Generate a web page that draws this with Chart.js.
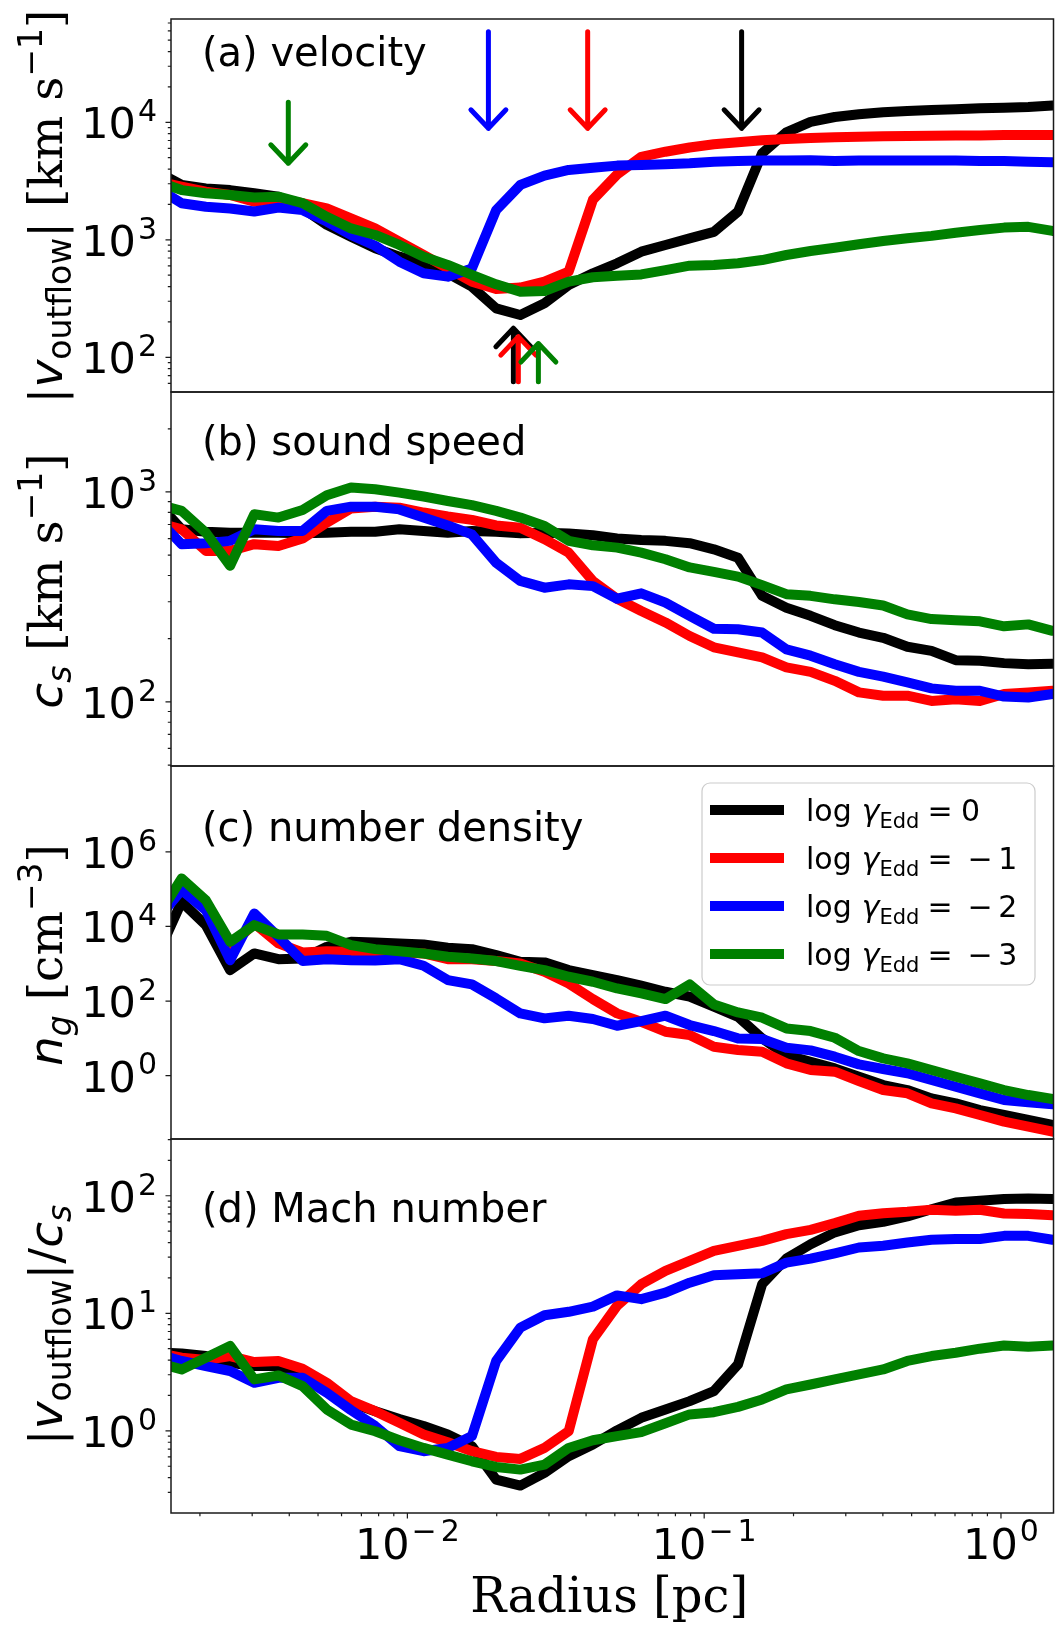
<!DOCTYPE html>
<html>
<head>
<meta charset="utf-8">
<script src="https://cdn.jsdelivr.net/npm/chart.js@4.4.1/dist/chart.umd.min.js"></script>
<style>
  html, body { margin: 0; padding: 0; background: #ffffff; }
  #wrap { position: relative; width: 1055px; height: 1625px; overflow: hidden; }
  canvas { position: absolute; left: 0; }
</style>
</head>
<body>
<div id="wrap">
  <canvas id="panelA" width="1055" height="412" style="top:0px"></canvas>
  <canvas id="panelB" width="1055" height="395" style="top:382px"></canvas>
  <canvas id="panelC" width="1055" height="394" style="top:756px"></canvas>
  <canvas id="panelD" width="1055" height="496" style="top:1129px"></canvas>
</div>
<script>
// radial profiles of the outflow for four Eddington ratios

const radius = [0.001439, 0.001736, 0.002094, 0.002527, 0.003048, 0.003677, 0.004436, 0.005352, 0.006457, 0.007790,
  0.009397, 0.01134, 0.01368, 0.01650, 0.01991, 0.02402, 0.02897, 0.03495, 0.04217, 0.05087,
  0.06138, 0.07405, 0.08933, 0.1078, 0.1300, 0.1568, 0.1892, 0.2283, 0.2754, 0.3322,
  0.4009, 0.4836, 0.5834, 0.7039, 0.8492, 1.024, 1.236, 1.491];

const seriesNames = ["log γEdd = 0", "log γEdd = -1", "log γEdd = -2", "log γEdd = -3"];
const legendValues = ["0", "−1", "−2", "−3"];
const seriesColors = ["#000000", "#ff0000", "#0000ff", "#008000"];

// (a) |v_outflow| [km/s]
const velBlack = [3800, 2930, 2740, 2650, 2490, 2330, 1850, 1340, 1060, 847, 719, 631, 519, 399, 261, 229, 288, 413, 519, 631,
  793, 904, 1030, 1170, 1740, 5450, 8220, 10100, 11100, 11700, 12200, 12500, 12700, 12900, 13200, 13300, 13500, 13900];
const velRed = [3130, 2830, 2570, 2410, 2110, 2250, 2050, 1850, 1520, 1250, 964, 743, 571, 441, 382, 392, 441, 536, 2190, 3600,
  5090, 5620, 6100, 6500, 6760, 7030, 7210, 7360, 7450, 7550, 7600, 7660, 7690, 7740, 7740, 7800, 7800, 7800];
const velBlue = [2740, 2050, 1910, 1850, 1740, 1880, 1790, 1430, 1100, 891, 652, 519, 486, 571, 1790, 2930, 3520, 3930, 4110, 4280,
  4340, 4400, 4480, 4620, 4690, 4720, 4720, 4750, 4690, 4720, 4720, 4720, 4720, 4720, 4690, 4690, 4620, 4570];
const velGreen = [3130, 2650, 2490, 2410, 2290, 2330, 2050, 1570, 1250, 1100, 904, 719, 611, 502, 418, 362, 367, 441, 480, 495,
  508, 553, 603, 611, 631, 673, 743, 804, 857, 916, 977, 1030, 1080, 1150, 1210, 1270, 1290, 1190];

// (b) sound speed [km/s]
const csBlack = [889, 664, 646, 640, 640, 640, 635, 640, 646, 646, 664, 652, 640, 652, 646, 635, 640, 635, 622, 600,
  590, 585, 570, 533, 486, 320, 281, 257, 232, 214, 202, 183, 175, 158, 157, 153, 151, 152];
const csRed = [714, 664, 524, 524, 564, 553, 600, 714, 834, 851, 841, 798, 764, 736, 693, 676, 596, 514, 377, 310,
  271, 239, 206, 182, 172, 163, 146, 139, 126, 111, 107, 107, 101, 103, 101, 109, 111, 113];
const csBlue = [741, 564, 570, 585, 664, 652, 652, 813, 851, 851, 826, 755, 693, 628, 460, 377, 350, 363, 356, 310,
  329, 297, 257, 223, 222, 214, 178, 166, 151, 139, 132, 124, 116, 113, 113, 106, 105, 109];
const csGreen = [873, 813, 640, 445, 783, 755, 820, 964, 1050, 1030, 993, 951, 906, 865, 813, 755, 689, 585, 557, 543,
  514, 478, 437, 416, 395, 360, 326, 320, 308, 299, 288, 261, 248, 245, 242, 229, 234, 218];

// (c) number density [cm^-3]
const nBlack = [1710, 45800, 10900, 676, 1890, 1330, 1390, 2850, 3880, 3720, 3510, 3300, 2690, 2470, 1710, 1130, 1090, 676, 497, 366,
  258, 178, 131, 70.5, 38.0, 10.0, 3.58, 2.37, 1.57, 0.940, 0.562, 0.413, 0.247, 0.182, 0.120, 0.0883, 0.0649, 0.0478];
const nRed = [16400, 142000, 37200, 2850, 12000, 3510, 2010, 2180, 2090, 1890, 2010, 1890, 1330, 1330, 1180, 1020, 611, 297, 113, 46.8,
  27.9, 15.1, 12.3, 5.98, 4.88, 4.40, 2.14, 1.42, 1.28, 0.719, 0.413, 0.337, 0.182, 0.133, 0.0883, 0.0586, 0.0431, 0.0316];
const nBlue = [15800, 94000, 27400, 1250, 22300, 5280, 1180, 1330, 1250, 1230, 1330, 883, 366, 279, 118, 46.8, 34.4, 40.5, 33.0, 21.8,
  29.1, 40.5, 22.8, 15.7, 10.0, 9.59, 5.62, 4.78, 3.23, 2.01, 1.51, 1.16, 0.766, 0.507, 0.337, 0.223, 0.193, 0.171];
const nGreen = [18200, 193000, 50700, 3880, 10900, 6110, 6110, 5620, 3160, 2470, 2180, 1890, 1540, 1390, 1180, 883, 676, 449, 330, 218,
  160, 113, 279, 81.5, 49.7, 35.8, 18.5, 15.7, 10.4, 4.58, 2.91, 2.14, 1.42, 0.940, 0.624, 0.413, 0.303, 0.237];

// (d) Mach number
const machBlack = [4.62, 4.56, 4.33, 3.80, 3.56, 3.56, 3.02, 2.25, 1.73, 1.47, 1.26, 1.10, 0.931, 0.740, 0.385, 0.342, 0.439, 0.608, 0.766, 1.01,
  1.29, 1.52, 1.79, 2.18, 3.67, 17.7, 29.2, 38.7, 48.8, 56.2, 60.0, 66.7, 76.9, 87.7, 90.6, 93.8, 94.8, 93.8];
const machRed = [4.62, 4.19, 4.00, 4.33, 3.85, 3.93, 3.37, 2.56, 1.79, 1.47, 1.17, 0.931, 0.800, 0.671, 0.600, 0.577, 0.716, 0.993, 6.00, 11.6,
  17.7, 23.0, 27.9, 34.0, 37.5, 41.3, 47.1, 51.3, 58.5, 67.6, 71.1, 73.1, 76.0, 74.5, 76.0, 70.6, 69.8, 68.4];
const machBlue = [4.48, 3.93, 3.56, 3.23, 2.56, 2.83, 2.83, 2.11, 1.50, 1.10, 0.740, 0.671, 0.716, 0.902, 3.93, 7.55, 9.62, 10.3, 11.4, 14.2,
  13.2, 15.0, 18.2, 21.1, 21.5, 21.9, 27.0, 29.2, 32.4, 36.3, 37.5, 40.0, 42.2, 42.8, 42.8, 45.6, 45.6, 42.2];
const machGreen = [3.80, 3.33, 4.19, 5.27, 2.74, 2.96, 2.40, 1.52, 1.13, 0.993, 0.832, 0.716, 0.628, 0.551, 0.493, 0.468, 0.516, 0.716, 0.832, 0.902,
  0.975, 1.16, 1.38, 1.44, 1.60, 1.85, 2.25, 2.48, 2.74, 3.02, 3.33, 3.93, 4.33, 4.62, 5.00, 5.33, 5.20, 5.33];

// arrows in panel (a): x position, tail and head value
const arrowColors = ["#008000", "#0000ff", "#ff0000", "#000000", "#000000", "#ff0000", "#008000"];
const arrowX = [0.00397, 0.01875, 0.0405, 0.1337, 0.02276, 0.02365, 0.02763];
const arrowTail = [14800, 59000, 59000, 59000, 62, 62, 62];
const arrowHead = [4480, 8890, 8890, 8890, 177, 150, 131];

// axes
const xRange = [0.001598, 1.503];
const xTicks = [0.01, 0.1, 1];
const yRangeA = [50.7, 75700], yTicksA = [1e2, 1e3, 1e4];
const yRangeB = [49.5, 2994], yTicksB = [1e2, 1e3];
const yRangeC = [0.0201, 2.0e8], yTicksC = [1, 1e2, 1e4, 1e6];
const yRangeD = [0.2, 304], yTicksD = [1, 10, 100];

const SANS = '"DejaVu Sans", sans-serif';
const SERIF = '"DejaVu Serif", serif';
const font = (size, fam, style) => (style ? style + " " : "") + size + "px " + fam;

function runsWidth(ctx, runs) {
  let w = 0;
  for (const r of runs) { ctx.font = r.font; w += ctx.measureText(r.t).width + (r.gap || 0); }
  return w;
}

function drawRuns(ctx, runs, x, y, align) {
  const w = runsWidth(ctx, runs);
  let cx = align === "right" ? x - w : align === "center" ? x - w / 2 : x;
  ctx.textAlign = "left";
  ctx.textBaseline = "alphabetic";
  for (const r of runs) {
    ctx.font = r.font;
    ctx.fillText(r.t, cx, y + (r.dy || 0));
    cx += ctx.measureText(r.t).width + (r.gap || 0);
  }
}

// "10" with a raised exponent, the way mathtext sets it
function pow10Runs(v, size) {
  const e = Math.round(Math.log10(v));
  const sup = Math.round(size * 0.7);
  const runs = [{ t: "10", font: font(size, SANS), gap: 2 }];
  if (e < 0) {
    runs.push({ t: "\u2212", font: font(sup, SANS), dy: -0.4 * size, gap: 4 });
    runs.push({ t: String(-e), font: font(sup, SANS), dy: -0.4 * size });
  } else {
    runs.push({ t: String(e), font: font(sup, SANS), dy: -0.4 * size });
  }
  return runs;
}

function minorTicks(min, max) {
  const out = [];
  for (let e = Math.floor(Math.log10(min)); e <= Math.ceil(Math.log10(max)); e++) {
    for (let m = 2; m <= 9; m++) {
      const v = m * Math.pow(10, e);
      if (v > min && v < max) out.push(v);
    }
  }
  return out;
}

const LF = 47, LS = 33;
const labelA = [
  { t: "|", font: font(LF, SANS) }, { t: "v", font: font(LF, SANS, "oblique") },
  { t: "outflow", font: font(LS, SANS), dy: 0.2 * LF }, { t: "|", font: font(LF, SANS) },
  { t: " [km s", font: font(LF, SERIF) }, { t: "\u22121", font: font(LS, SANS), dy: -0.42 * LF },
  { t: "]", font: font(LF, SERIF) }];
const labelB = [
  { t: "c", font: font(LF, SANS, "oblique") }, { t: "s", font: font(LS, SANS, "oblique"), dy: 0.2 * LF },
  { t: " [km s", font: font(LF, SERIF) }, { t: "\u22121", font: font(LS, SANS), dy: -0.42 * LF },
  { t: "]", font: font(LF, SERIF) }];
const labelC = [
  { t: "n", font: font(LF, SANS, "oblique") }, { t: "g", font: font(LS, SANS, "oblique"), dy: 0.2 * LF },
  { t: " [cm", font: font(LF, SERIF) }, { t: "\u22123", font: font(LS, SANS), dy: -0.42 * LF },
  { t: "]", font: font(LF, SERIF) }];
const labelD = [
  { t: "|", font: font(LF, SANS) }, { t: "v", font: font(LF, SANS, "oblique") },
  { t: "outflow", font: font(LS, SANS), dy: 0.2 * LF }, { t: "|/", font: font(LF, SANS) },
  { t: "c", font: font(LF, SANS, "oblique") }, { t: "s", font: font(LS, SANS, "oblique"), dy: 0.2 * LF }];

function legendRuns(val, size) {
  const sub = Math.round(size * 0.7);
  const runs = [{ t: "log", font: font(size, SANS), gap: 10 },
    { t: "γ", font: font(size, SANS, "oblique") },
    { t: "Edd", font: font(sub, SANS), dy: size * 0.22, gap: 8 }];
  if (val.startsWith("−")) {
    runs.push({ t: "=", font: font(size, SANS), gap: 15 });
    runs.push({ t: "−", font: font(size, SANS), gap: 5.5 });
    runs.push({ t: val.slice(1), font: font(size, SANS) });
  } else {
    runs.push({ t: "=", font: font(size, SANS), gap: 8.5 });
    runs.push({ t: val, font: font(size, SANS) });
  }
  return runs;
}

function drawArrows(chart) {
  const ctx = chart.ctx, xs = chart.scales.x, ys = chart.scales.y;
  ctx.lineWidth = 5;
  ctx.lineCap = "round";
  ctx.lineJoin = "round";
  arrowX.forEach((xv, i) => {
    const x = xs.getPixelForValue(xv);
    const y0 = ys.getPixelForValue(arrowTail[i]);
    const y1 = ys.getPixelForValue(arrowHead[i]);
    const dir = y1 > y0 ? -1 : 1;
    ctx.strokeStyle = arrowColors[i];
    ctx.beginPath();
    ctx.moveTo(x, y0);
    ctx.lineTo(x, y1);
    ctx.moveTo(x - 17.5, y1 + dir * 18.5);
    ctx.lineTo(x, y1);
    ctx.lineTo(x + 17.5, y1 + dir * 18.5);
    ctx.stroke();
  });
}

function drawLegend(ctx, a) {
  const x0 = 702, y0 = a.top + 17, w = 333, h = 202, r = 8;
  ctx.beginPath();
  ctx.moveTo(x0 + r, y0);
  ctx.arcTo(x0 + w, y0, x0 + w, y0 + h, r);
  ctx.arcTo(x0 + w, y0 + h, x0, y0 + h, r);
  ctx.arcTo(x0, y0 + h, x0, y0, r);
  ctx.arcTo(x0, y0, x0 + w, y0, r);
  ctx.closePath();
  ctx.fillStyle = "rgba(255,255,255,0.8)";
  ctx.fill();
  ctx.strokeStyle = "#cccccc";
  ctx.lineWidth = 1.2;
  ctx.stroke();
  seriesNames.forEach((nm, i) => {
    const cy = y0 + 27 + i * 48;
    ctx.strokeStyle = seriesColors[i];
    ctx.lineWidth = 10;
    ctx.lineCap = "butt";
    ctx.beginPath();
    ctx.moveTo(710, cy);
    ctx.lineTo(784, cy);
    ctx.stroke();
    ctx.fillStyle = "#000";
    drawRuns(ctx, legendRuns(legendValues[i], 30), 806, cy + 11, "left");
  });
}

const decor = {
  id: "decor",
  afterDatasetsDraw(chart, args, o) {
    const ctx = chart.ctx, a = chart.chartArea;
    const xs = chart.scales.x, ys = chart.scales.y;
    ctx.save();
    if (o.arrows) {
      ctx.save();
      ctx.beginPath();
      ctx.rect(a.left, a.top, a.right - a.left, a.bottom - a.top);
      ctx.clip();
      drawArrows(chart);
      ctx.restore();
    }
    // frame
    ctx.strokeStyle = "#1a1a1a";
    ctx.lineWidth = 1.5;
    ctx.strokeRect(a.left, a.top, a.right - a.left, a.bottom - a.top);

    // y ticks
    ctx.lineWidth = 1.2;
    ctx.beginPath();
    o.yTicks.forEach(v => {
      const y = ys.getPixelForValue(v);
      ctx.moveTo(a.left - 5.5, y); ctx.lineTo(a.left, y);
    });
    if (o.minor) {
      minorTicks(ys.min, ys.max).forEach(v => {
        const y = ys.getPixelForValue(v);
        ctx.moveTo(a.left - 3.2, y); ctx.lineTo(a.left, y);
      });
    }
    ctx.stroke();
    ctx.fillStyle = "#000";
    o.yTicks.forEach(v => {
      const y = ys.getPixelForValue(v);
      drawRuns(ctx, pow10Runs(v, 43), 157, y + 16, "right");
    });

    // y label, rotated
    ctx.save();
    ctx.translate(62, a.top + o.labelCenter);
    ctx.rotate(-Math.PI / 2);
    drawRuns(ctx, o.label, 0, 0, "center");
    ctx.restore();

    // panel title
    ctx.font = font(40, SANS);
    ctx.textAlign = "left";
    ctx.textBaseline = "alphabetic";
    ctx.fillText(o.title, a.left + 31, a.top + o.titleY);

    if (o.xAxis) {
      ctx.beginPath();
      xTicks.forEach(v => {
        const x = xs.getPixelForValue(v);
        ctx.moveTo(x, a.bottom); ctx.lineTo(x, a.bottom + 5.5);
      });
      minorTicks(xs.min, xs.max).forEach(v => {
        const x = xs.getPixelForValue(v);
        ctx.moveTo(x, a.bottom); ctx.lineTo(x, a.bottom + 3.2);
      });
      ctx.stroke();
      xTicks.forEach(v => {
        drawRuns(ctx, pow10Runs(v, 43), xs.getPixelForValue(v), a.bottom + 45.5, "center");
      });
      ctx.font = font(48, SERIF);
      ctx.textAlign = "center";
      ctx.fillText("Radius [pc]", (a.left + a.right) / 2 - 3, a.bottom + 99);
    }
    if (o.legend) drawLegend(ctx, a);
    ctx.restore();
  }
};

function makePanel(id, values, yRange, pad, extra) {
  return new Chart(document.getElementById(id), {
    type: "line",
    data: {
      datasets: values.map((vals, i) => ({
        label: seriesNames[i],
        data: radius.map((r, k) => ({ x: r, y: vals[k] })),
        borderColor: seriesColors[i],
        borderWidth: 10,
        borderJoinStyle: "round",
        borderCapStyle: "round",
        pointRadius: 0,
        tension: 0,
        fill: false,
        clip: 0,
        order: 4 - i
      }))
    },
    options: {
      responsive: false,
      devicePixelRatio: 1,
      animation: false,
      events: [],
      layout: { padding: { left: 171, right: 1.5, top: pad[0], bottom: pad[1] } },
      scales: {
        x: { type: "logarithmic", min: xRange[0], max: xRange[1], display: false },
        y: { type: "logarithmic", min: yRange[0], max: yRange[1], display: false }
      },
      plugins: {
        legend: { display: false },
        tooltip: { enabled: false },
        decor: extra
      }
    },
    plugins: [decor]
  });
}

makePanel("panelA", [velBlack, velRed, velBlue, velGreen], yRangeA, [19, 20],
  { yTicks: yTicksA, minor: true, label: labelA, labelCenter: 187.5, title: "(a) velocity", titleY: 47, arrows: true });
makePanel("panelB", [csBlack, csRed, csBlue, csGreen], yRangeB, [10, 11],
  { yTicks: yTicksB, minor: true, label: labelB, labelCenter: 189, title: "(b) sound speed", titleY: 63 });
makePanel("panelC", [nBlack, nRed, nBlue, nGreen], yRangeC, [10, 11],
  { yTicks: yTicksC, minor: false, label: labelC, labelCenter: 189, title: "(c) number density", titleY: 75, legend: true });
makePanel("panelD", [machBlack, machRed, machBlue, machGreen], yRangeD, [10, 112],
  { yTicks: yTicksD, minor: true, label: labelD, labelCenter: 186, title: "(d) Mach number", titleY: 83, xAxis: true });
</script>
</body>
</html>
